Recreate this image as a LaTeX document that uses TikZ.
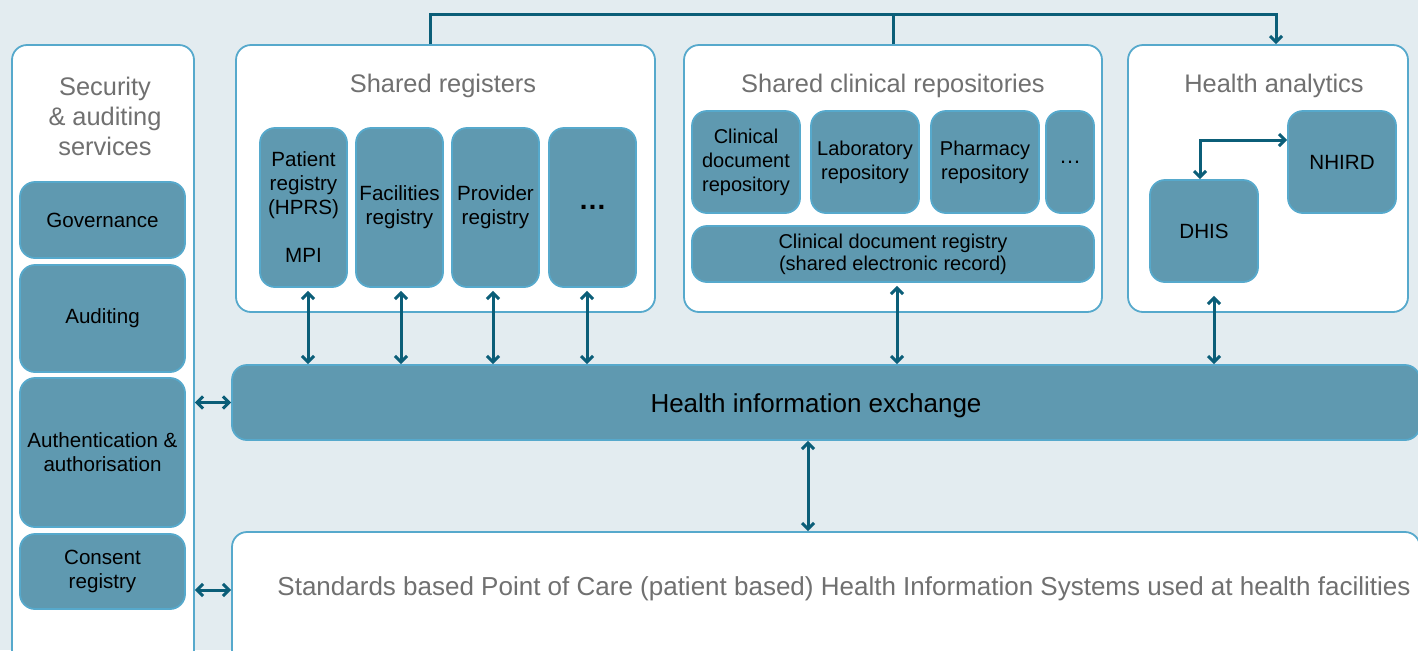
\documentclass[tikz,border=0pt]{standalone}
\usepackage{fontspec}
\setmainfont{Liberation Sans}
\usetikzlibrary{arrows.meta}
\definecolor{bgcol}{HTML}{E3ECF0}
\definecolor{boxline}{HTML}{56A9CC}
\definecolor{unitfill}{HTML}{5F99B0}
\definecolor{linkcol}{HTML}{0B5E78}
\definecolor{titlegray}{HTML}{707070}
\tikzset{
  panel/.style={draw=boxline,fill=white,rounded corners=7.5pt,line width=0.9pt},
  unit/.style={draw=boxline,fill=unitfill,rounded corners=7.5pt,line width=0.9pt,
    align=center,inner sep=1pt,font=\fontsize{10.3}{12}\selectfont},
  title/.style={text=titlegray,align=center,font=\fontsize{12.7}{15}\selectfont},
  flow/.style={draw=linkcol,line width=1.5pt,>={Straight Barb[length=3pt,width=6pt]}},
}
\begin{document}
\begin{tikzpicture}[x=0.5pt,y=-0.5pt]
        % background
        \fill[bgcol] (0,0) rectangle (1418,650);
        \clip (0,0) rectangle (1418,650);
        % security column
        \node[panel,minimum width=91pt,minimum height=310pt] (sec) at (103,355) {};
        \node[title] (sectitle) at (105,116) {Security\\\& auditing\\services};
        \node[unit,minimum width=82.5pt,minimum height=38pt] (gov) at (102.5,220) {Governance};
        \node[unit,minimum width=82.5pt,minimum height=53.5pt] (aud) at (102.5,318.5) {Auditing};
        \node[unit,minimum width=82.5pt,minimum height=74.5pt] (auth) at (102.5,452.5) {Authentication \&\\authorisation};
        \node[unit,minimum width=82.5pt,minimum height=37.5pt] (cons) at (102.5,571.5) {Consent\\registry};
        % shared registers
        \node[panel,minimum width=209.5pt,minimum height=133.5pt] (reg) at (445.5,178.5) {};
        \node[title] (regtitle) at (443,86) {Shared registers};
        \node[unit,minimum width=43.5pt,minimum height=79.5pt] (pat) at (303.5,207.5) {Patient\\registry\\(HPRS)\\[12pt]MPI};
        \node[unit,minimum width=43.5pt,minimum height=79.5pt] (fac) at (399.5,207.5) {Facilities\\registry};
        \node[unit,minimum width=43.5pt,minimum height=79.5pt] (prov) at (495.5,207.5) {Provider\\registry};
        \node[unit,minimum width=43.5pt,minimum height=79.5pt,font=\fontsize{14}{14}\selectfont\bfseries] (regmore) at (592.5,207.5) {\dots};
        % shared clinical repositories
        \node[panel,minimum width=209pt,minimum height=133.5pt] (clin) at (893,178.5) {};
        \node[title] (clintitle) at (893,86) {Shared clinical repositories};
        \node[unit,minimum width=54pt,minimum height=51pt,font=\fontsize{10}{12}\selectfont] (cdr) at (746,162) {Clinical\\document\\repository};
        \node[unit,minimum width=54pt,minimum height=51pt,font=\fontsize{10}{12}\selectfont] (lab) at (865,162) {Laboratory\\repository};
        \node[unit,minimum width=54pt,minimum height=51pt,font=\fontsize{10}{12}\selectfont] (pharm) at (985,162) {Pharmacy\\repository};
        \node[unit,minimum width=24pt,minimum height=51pt,font=\fontsize{11}{11}\selectfont] (clinmore) at (1070,162) {\dots};
        \node[unit,minimum width=201pt,minimum height=28pt,font=\fontsize{10}{11}\selectfont] (cdreg) at (893,254) {Clinical document registry\\(shared electronic record)};
        % health analytics
        \node[panel,minimum width=140pt,minimum height=133.5pt] (ana) at (1268,178.5) {};
        \node[title] (anatitle) at (1274,86) {Health analytics};
        \node[unit,minimum width=54pt,minimum height=51pt] (nhird) at (1342,162) {NHIRD};
        \node[unit,minimum width=54pt,minimum height=51pt] (dhis) at (1204,231) {DHIS};
        % exchange and point of care
        \node[unit,minimum width=594pt,minimum height=37.5pt] (hie) at (826,402.5) {};
        \node[font=\fontsize{13}{15}\selectfont] (hietext) at (816,406) {Health information exchange};
        \node[panel,minimum width=594pt,minimum height=66.5pt] (sys) at (826,598.5) {};
        \node[title,font=\fontsize{13}{15}\selectfont] (systext) at (844,589) {Standards based Point of Care (patient based) Health Information Systems used at health facilities};
        % top connector
        \coordinate (top) at (893,14);
        \draw[flow,->] ([xshift=-7.75pt]reg.north) |- (top) -| ([xshift=4pt]ana.north);
        \draw[flow] (clin.north) -- (top);
        % links to the exchange
        \foreach \n/\dx in {pat/2.25pt,fac/0.75pt,prov/-1.25pt,regmore/-2.75pt,cdreg/2pt}
          \draw[flow,<->,shorten <=1.5pt] ([xshift=\dx]\n.south) -- ([xshift=\dx]\n.south |- hie.north);
        \draw[flow,<->,shorten <=6.5pt] ([xshift=5pt]dhis.south) -- ([xshift=5pt]dhis.south |- hie.north);
        \draw[flow,<->] ([xshift=-2pt]dhis.north) |- ([yshift=11pt]nhird.west);
        \draw[flow,<->] ([xshift=-9pt]hie.south) -- ([xshift=-9pt]sys.north);
        \draw[flow,<->] (hie.west -| sec.east) -- (hie.west);
        \draw[flow,<->] ([yshift=4.25pt]sys.west -| sec.east) -- ([yshift=4.25pt]sys.west);
    \end{tikzpicture}
\end{document}
